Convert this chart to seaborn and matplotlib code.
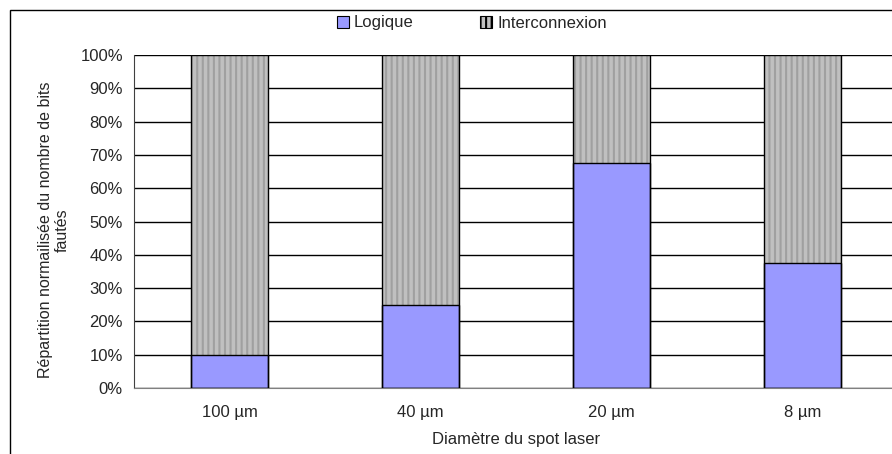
import matplotlib
matplotlib.use('Agg')
import matplotlib.pyplot as plt
import seaborn as sns
import pandas as pd
from matplotlib.patches import Patch, Rectangle
from matplotlib.ticker import PercentFormatter, FixedLocator

# données
diametres = ['100 µm', '40 µm', '20 µm', '8 µm']
logique = [10.0, 25.0, 67.5, 37.5]
interconnexion = [90.0, 75.0, 32.5, 62.5]

sns.set_style("white")
plt.rcParams['font.family'] = ['Liberation Sans', 'DejaVu Sans']
plt.rcParams['hatch.linewidth'] = 1.5
plt.rcParams['hatch.color'] = '#A0A0A0'

df = pd.DataFrame({'diametre': diametres, 'logique': logique,
                   'total': [a + b for a, b in zip(logique, interconnexion)]})

fig = plt.figure(figsize=(8.92, 4.54), dpi=100)
W, H = 892, 454
ax = fig.add_axes([134 / W, 1 - 388 / H, 764 / W, 333 / H])

# cadre extérieur
fig.patches.append(Rectangle((10 / W, -0.1), 1.2, 1.1 - 10 / H, transform=fig.transFigure,
                             fill=False, edgecolor='black', linewidth=1.0, zorder=0))

ax.set_axisbelow(True)
ax.yaxis.grid(True, color='black', linewidth=1.0)

couleur_inter = '#C0C0C0'
couleur_logique = '#9999FF'
fs = 12

sns.barplot(data=df, x='diametre', y='total', color=couleur_inter, width=0.4,
            saturation=1, ax=ax, hatch='|||', edgecolor='#A0A0A0', linewidth=0)
sns.barplot(data=df, x='diametre', y='logique', color=couleur_logique, width=0.4,
            saturation=1, ax=ax, edgecolor='black', linewidth=0)

# contours noirs
for p in list(ax.patches):
    ax.add_patch(Rectangle(p.get_xy(), p.get_width(), p.get_height(), fill=False,
                           edgecolor='black', linewidth=1.0, zorder=3))

ax.set_xlim(-0.5, len(diametres) - 0.5)
ax.set_ylim(0, 100)
ax.set_yticks(range(0, 101, 10))
ax.yaxis.set_major_formatter(PercentFormatter(decimals=0))
ax.xaxis.set_minor_locator(FixedLocator([i + 0.5 for i in range(len(diametres) - 1)]))
ax.tick_params(axis='x', which='major', length=0, labelsize=fs, pad=12)
ax.tick_params(axis='x', which='minor', length=5, width=1, color='#808080', direction='out')
ax.tick_params(axis='y', length=5, width=1, color='black', direction='out', labelsize=fs, pad=3)

for s in ['top', 'right']:
    ax.spines[s].set_visible(False)
ax.spines['left'].set_color('#404040')
ax.spines['bottom'].set_color('#808080')

ax.set_xlabel('Diamètre du spot laser', fontsize=fs, labelpad=9)
ax.set_ylabel('Répartition normailisée du nombre de bits\nfautés', fontsize=11.5)
ax.yaxis.set_label_coords(-64 / 764, (388 - 230) / 333)

handles = [Patch(facecolor=couleur_logique, edgecolor='black', linewidth=0.8),
           Patch(facecolor=couleur_inter, edgecolor='black', hatch='|||', linewidth=0.8)]
fig.legend(handles, ['Logique', 'Interconnexion'], loc='center', ncol=2,
           bbox_to_anchor=(472 / W, 1 - 23 / H), frameon=False, fontsize=fs,
           handlelength=0.7, handleheight=0.7, columnspacing=4.0, handletextpad=0.3)

plt.savefig('out.png', dpi=100)
